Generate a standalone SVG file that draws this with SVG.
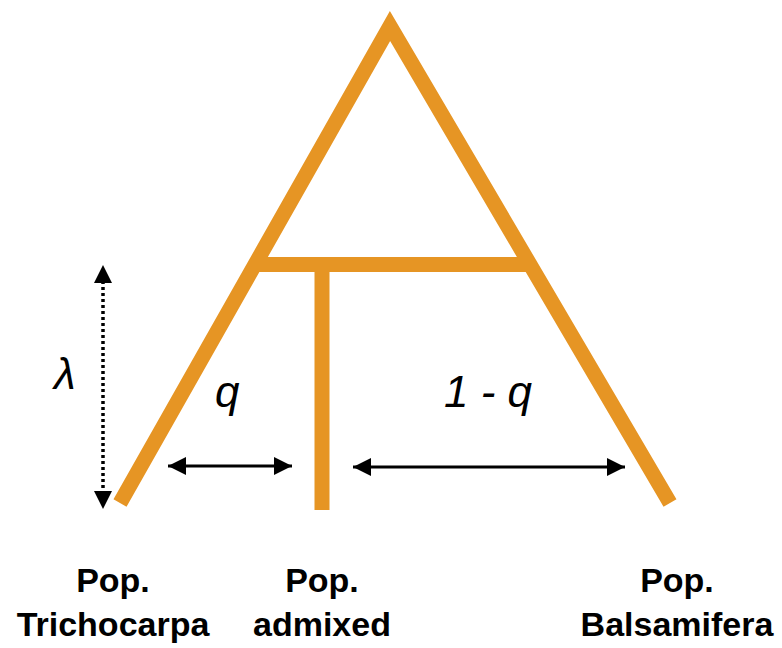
<svg xmlns="http://www.w3.org/2000/svg" width="782" height="648" viewBox="0 0 782 648">
  <defs>
    <style>
      .branch { fill: none; stroke: #E69524; stroke-width: 15; stroke-linejoin: miter; stroke-miterlimit: 10; stroke-linecap: butt; }
      .arrow { stroke: #000; stroke-width: 3; fill: none; }
      .dotted { stroke: #000; stroke-width: 3.5; stroke-dasharray: 3 3; fill: none; }
      .sym { font-family: "Liberation Sans", Arial, sans-serif; font-style: italic; font-size: 44px; fill: #000; }
      .lbl { font-family: "Liberation Sans", Arial, sans-serif; font-weight: bold; font-size: 34px; fill: #000; text-anchor: middle; }
    </style>
    <marker id="ah" viewBox="0 0 18 18" refX="18" refY="9" markerWidth="18" markerHeight="18" markerUnits="userSpaceOnUse" orient="auto-start-reverse">
      <path d="M0,0 L18,9 L0,18 Z" fill="#000"/>
    </marker>
  </defs>

  <g id="tree">
    <polyline class="branch" points="120,503 390,26 670,503"/>
    <line class="branch" x1="255" y1="264.5" x2="528" y2="264.5"/>
    <line class="branch" x1="322" y1="264" x2="322" y2="510"/>
  </g>

  <g id="connectors">
    <line class="dotted" x1="103" y1="281" x2="103" y2="493"/>
    <path d="M94,283 L103,265 L112,283 Z" fill="#000"/>
    <path d="M94,491 L103,509 L112,491 Z" fill="#000"/>
    <line class="arrow" x1="168" y1="466" x2="292" y2="466" marker-start="url(#ah)" marker-end="url(#ah)"/>
    <line class="arrow" x1="353" y1="467" x2="625" y2="467" marker-start="url(#ah)" marker-end="url(#ah)"/>
  </g>

  <g id="symbols">
    <text class="sym" x="54" y="389">λ</text>
    <text class="sym" x="215" y="407">q</text>
    <text class="sym" x="444" y="407">1 - q</text>
  </g>

  <g id="pop-trichocarpa">
    <text class="lbl" x="113" y="592">Pop.</text>
    <text class="lbl" x="113" y="636">Trichocarpa</text>
  </g>
  <g id="pop-admixed">
    <text class="lbl" x="322" y="592">Pop.</text>
    <text class="lbl" x="322" y="636">admixed</text>
  </g>
  <g id="pop-balsamifera">
    <text class="lbl" x="677" y="592">Pop.</text>
    <text class="lbl" x="677" y="636">Balsamifera</text>
  </g>
</svg>
